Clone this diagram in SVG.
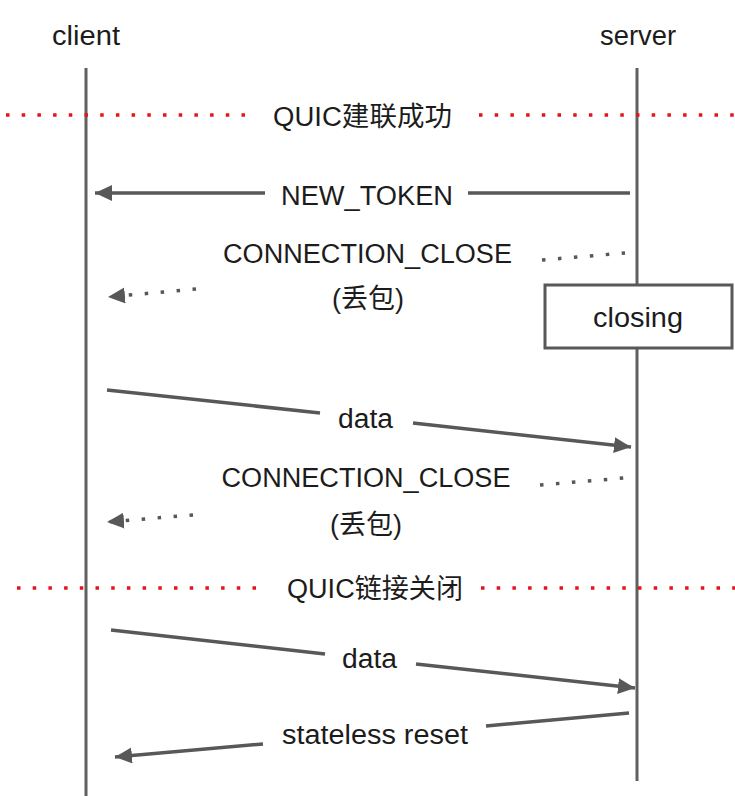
<svg xmlns="http://www.w3.org/2000/svg" width="735" height="796" viewBox="0 0 735 796">
<style>
text{font-family:"Liberation Sans","Noto Sans CJK SC",sans-serif;font-size:27px;fill:#1c1c1c;text-anchor:middle}
.life{stroke:#606060;stroke-width:3;fill:none}
.msg{stroke:#585858;stroke-width:3.5;fill:none}
.dot{stroke:#585858;stroke-width:3.5;fill:none;stroke-dasharray:3.5 12.5}
.red{stroke:#e4141c;stroke-width:3.5;fill:none;stroke-dasharray:3.5 12.2}
.box{fill:#fff;stroke:#585858;stroke-width:3}
</style>
<defs>
<marker id="ah" markerUnits="userSpaceOnUse" markerWidth="20" markerHeight="20" refX="17" refY="8" orient="auto">
<path d="M0,0 L17,8 L0,16 Z" fill="#585858"/>
</marker>
</defs>
<rect width="735" height="796" fill="#fff"/>
<g id="client">
<text x="86" y="45" textLength="68" lengthAdjust="spacingAndGlyphs">client</text>
<line class="life" x1="86" y1="68" x2="86" y2="796"/>
</g>
<g id="server">
<text x="638" y="45" textLength="76" lengthAdjust="spacingAndGlyphs">server</text>
<line class="life" x1="637" y1="68" x2="637" y2="781"/>
</g>
<g id="sep-established">
<line class="red" x1="6" y1="115" x2="252" y2="115"/>
<line class="red" x1="479" y1="115" x2="735" y2="115"/>
<text x="362.5" y="126" textLength="179" lengthAdjust="spacingAndGlyphs">QUIC建联成功</text>
</g>
<g id="closing">
<rect class="box" x="545" y="285" width="187" height="63"/>
<text x="638" y="327" textLength="90" lengthAdjust="spacingAndGlyphs">closing</text>
</g>
<g id="sep-closed">
<line class="red" x1="17" y1="588" x2="262" y2="588"/>
<line class="red" x1="481" y1="588" x2="735" y2="588"/>
<text x="375" y="598" textLength="176" lengthAdjust="spacingAndGlyphs">QUIC链接关闭</text>
</g>
<g id="connectors">
<line class="msg" x1="630" y1="193" x2="468" y2="193"/>
<line class="msg" x1="265" y1="193" x2="95" y2="193" marker-end="url(#ah)"/>
<line class="dot" x1="542" y1="260" x2="625" y2="253"/>
<line class="dot" x1="196" y1="289" x2="108" y2="297" marker-end="url(#ah)"/>
<line class="msg" x1="107" y1="390" x2="320" y2="413"/>
<line class="msg" x1="413" y1="423" x2="631" y2="447" marker-end="url(#ah)"/>
<line class="dot" x1="540" y1="485" x2="624" y2="478"/>
<line class="dot" x1="193" y1="515" x2="107" y2="522" marker-end="url(#ah)"/>
<line class="msg" x1="111" y1="630" x2="325" y2="654"/>
<line class="msg" x1="416" y1="664" x2="635" y2="688" marker-end="url(#ah)"/>
<line class="msg" x1="629" y1="713" x2="486" y2="726"/>
<line class="msg" x1="263" y1="744" x2="115" y2="757" marker-end="url(#ah)"/>
</g>
<g id="labels">
<text x="367" y="205" textLength="172" lengthAdjust="spacingAndGlyphs">NEW_TOKEN</text>
<text x="367.5" y="263" textLength="289" lengthAdjust="spacingAndGlyphs">CONNECTION_CLOSE</text>
<text x="368" y="308" textLength="72" lengthAdjust="spacingAndGlyphs">(丢包)</text>
<text x="365.5" y="428" textLength="55" lengthAdjust="spacingAndGlyphs">data</text>
<text x="366" y="487" textLength="289" lengthAdjust="spacingAndGlyphs">CONNECTION_CLOSE</text>
<text x="366" y="534" textLength="72" lengthAdjust="spacingAndGlyphs">(丢包)</text>
<text x="369.5" y="668" textLength="55" lengthAdjust="spacingAndGlyphs">data</text>
<text x="375" y="744" textLength="186" lengthAdjust="spacingAndGlyphs">stateless reset</text>
</g>
</svg>
